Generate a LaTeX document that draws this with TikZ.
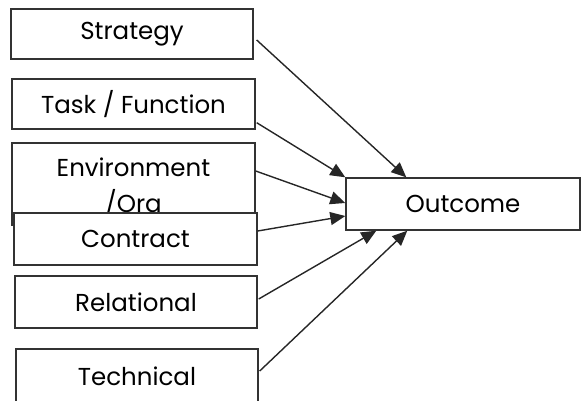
\documentclass[tikz,border=0pt]{standalone}
\usepackage{fontspec}
\setmainfont{Poppins}
\usetikzlibrary{arrows.meta,calc}
\begin{document}
\begin{tikzpicture}[x=1pt,y=-1pt,
  factor/.style={draw=black!80, line width=1.4pt, fill=white, inner sep=0pt,
    font=\fontsize{24.5}{33}\selectfont},
  link/.style={draw=black!85, line width=1.4pt, -{Triangle[length=15pt,width=13pt]}}]
  \useasboundingbox (0,0) rectangle (582,400);
  % factor boxes on the left
  \node[factor, minimum width=242pt, minimum height=50pt] (strat) at (132,34) {Strategy};
  \node[factor, minimum width=243pt, minimum height=50pt] (task) at (133.5,104) {Task / Function};
  \node[factor, minimum width=243pt, minimum height=82pt] (env) at (133.5,184)
    {\raisebox{-10pt}[0pt][0pt]{\begin{tabular}{@{}c@{}}Environment\\[3pt]/Org\end{tabular}}};
  \node[factor, minimum width=243pt, minimum height=52pt] (contract) at (135.5,239) {Contract};
  \node[factor, minimum width=242pt, minimum height=52pt] (rel) at (136,302) {Relational};
  \node[factor, minimum width=242pt, minimum height=54pt] (tech) at (137,376) {Technical};
  % outcome box
  \node[factor, minimum width=234pt, minimum height=52pt] (outc) at (463,204) {Outcome};
  % arrows into the outcome
  \draw[link] ($(strat.east)+(3,6)$) -- ($(outc.north west)+(61,0)$);
  \draw[link] ($(task.south east)+(1,-7)$) -- ($(outc.north west)+(0,0)$);
  \draw[link] ($(env.east)+(0,-13)$) -- ($(outc.west)+(0,-1)$);
  \draw[link] ($(contract.east)+(0,-8)$) -- ($(outc.west)+(0,12)$);
  \draw[link] ($(rel.east)+(1,-3)$) -- ($(outc.south west)+(31,0)$);
  \draw[link] ($(tech.east)+(1,-5)$) -- ($(outc.south west)+(62,0)$);
\end{tikzpicture}
\end{document}
